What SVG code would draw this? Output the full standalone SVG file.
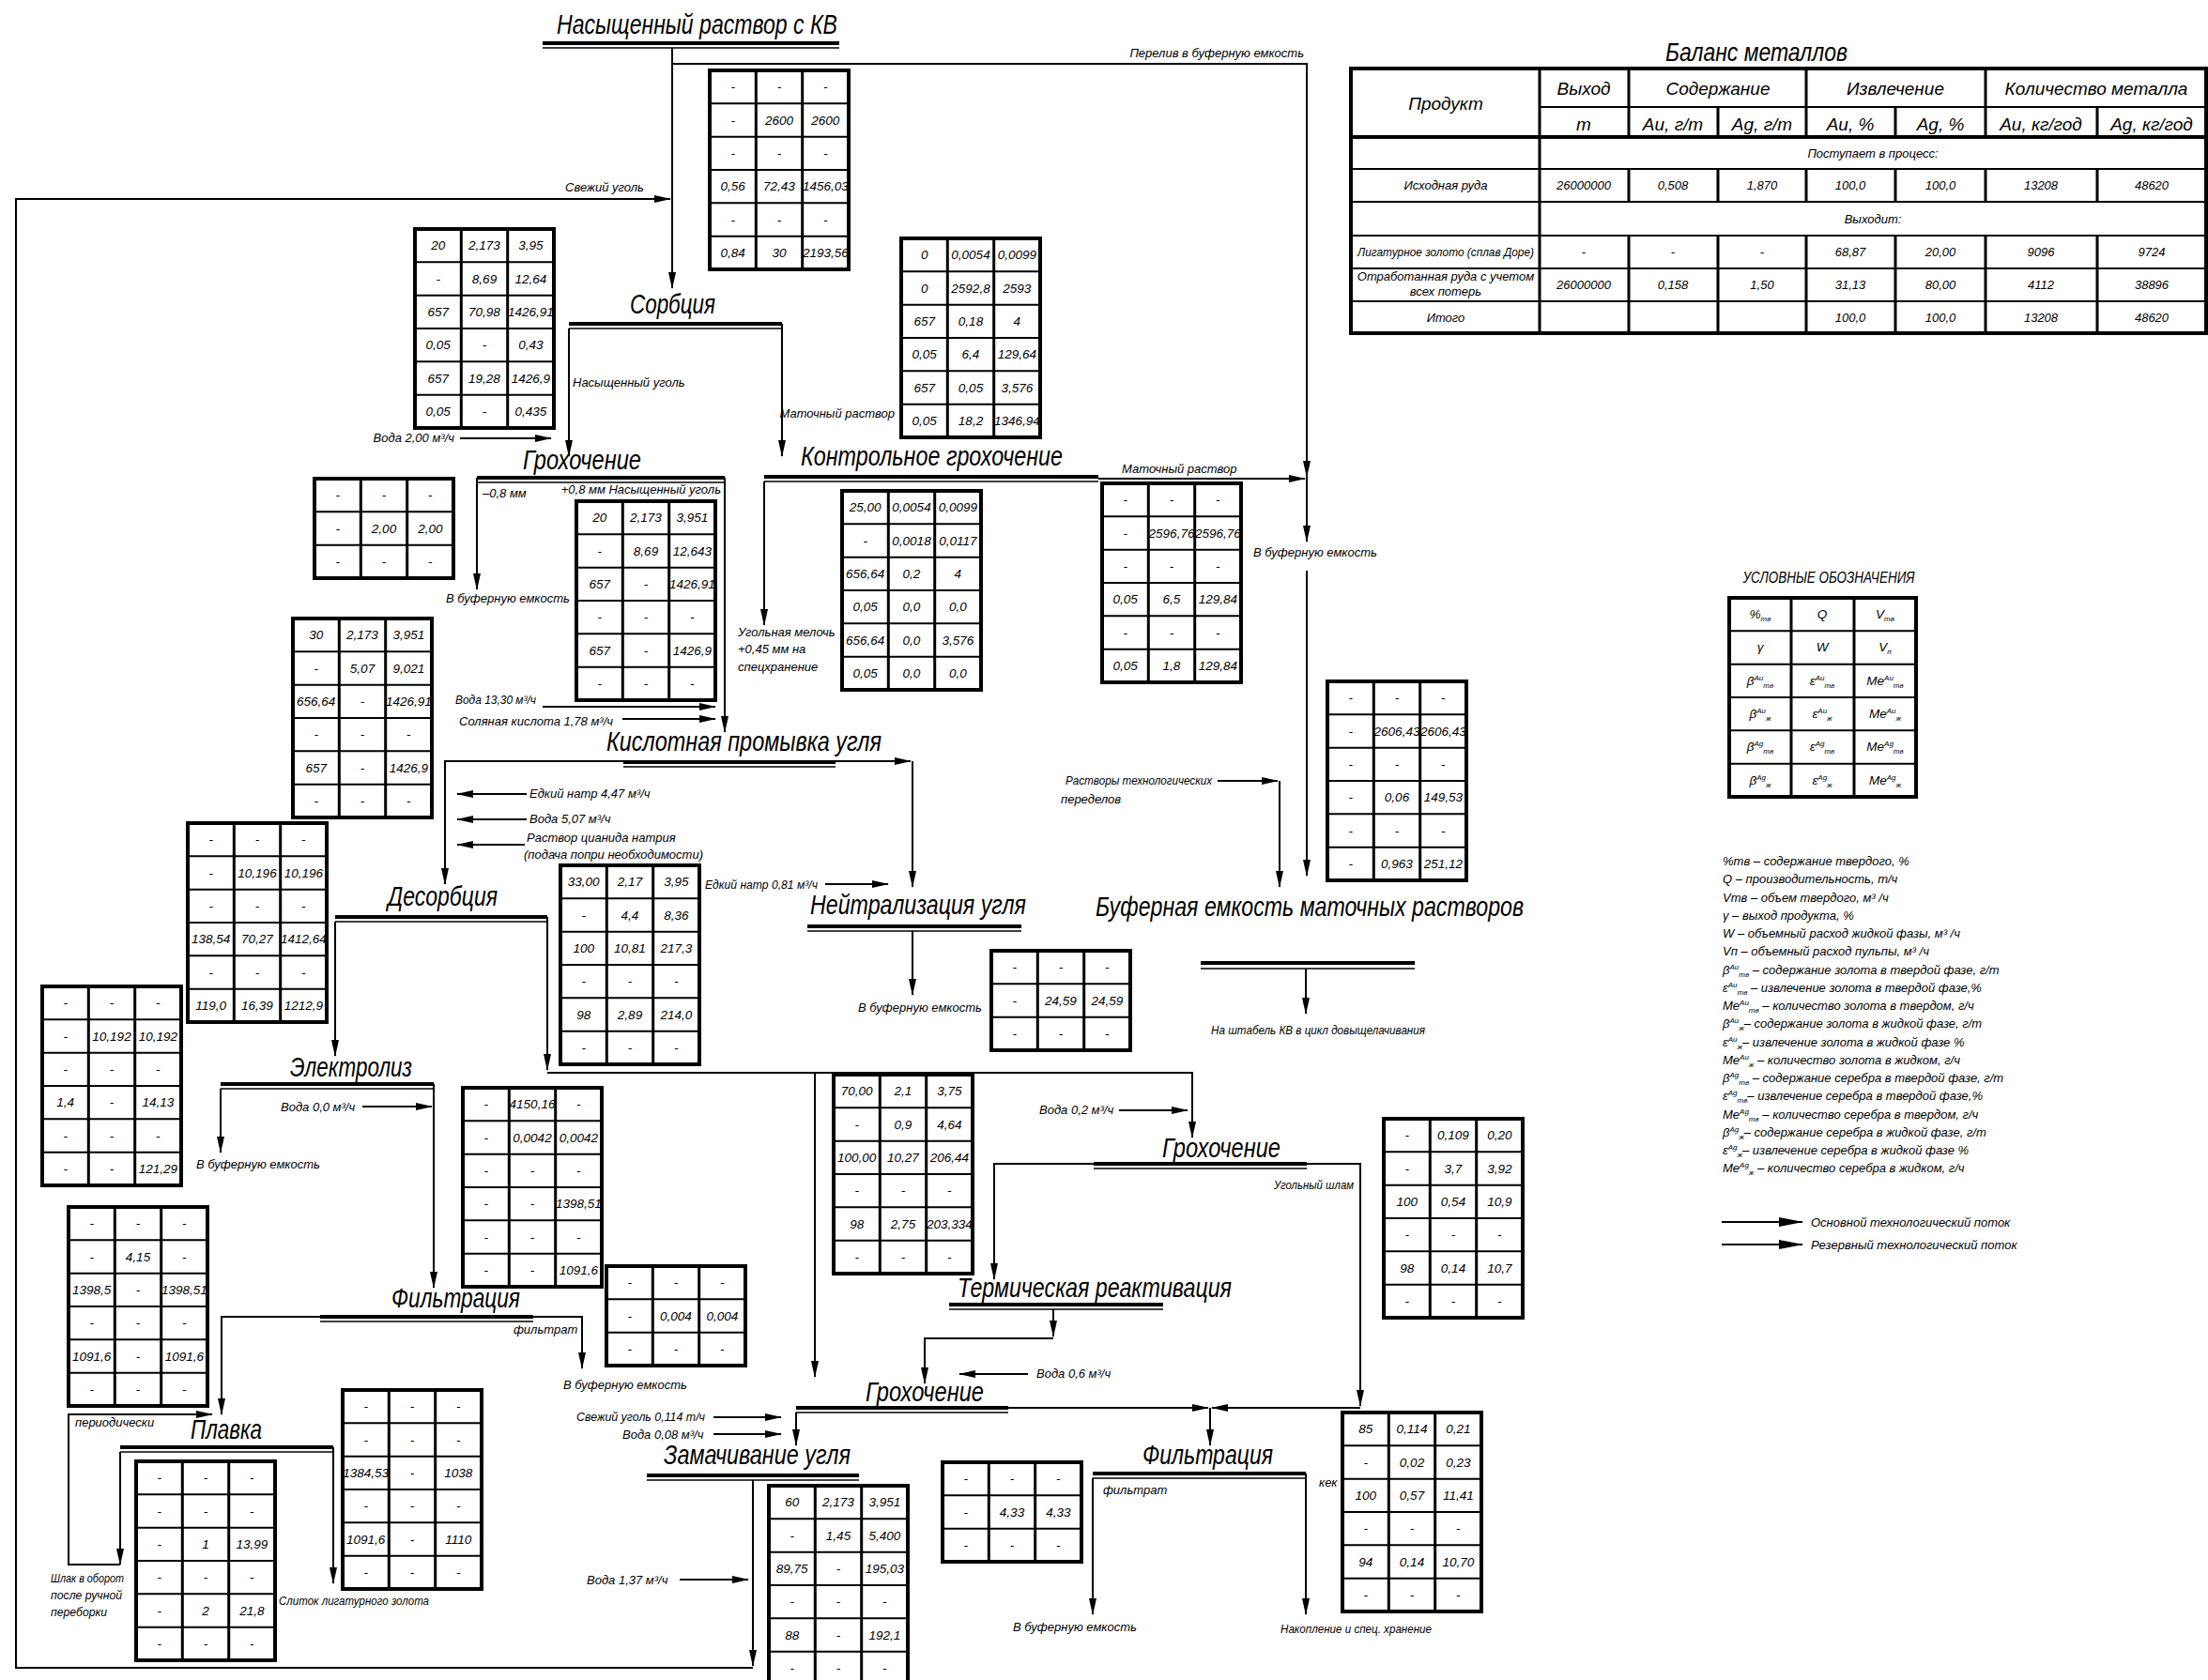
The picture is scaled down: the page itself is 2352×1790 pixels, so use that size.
<svg xmlns="http://www.w3.org/2000/svg" width="2352" height="1790" viewBox="0 0 2352 1790">
<style>
text{font-family:"Liberation Sans",Arial,sans-serif;font-style:italic;fill:#000}
.t{font-size:30px}
.l{font-size:13px}
.v{font-size:13.5px;text-anchor:middle}
.bh{font-size:19px;text-anchor:middle}
.bd{font-size:13px;text-anchor:middle}
.c{fill:none;stroke:#000;stroke-width:2}
.a{marker-end:url(#ar)}
.h1{stroke:#000;stroke-width:4;fill:none}
.h2{stroke:#000;stroke-width:1.5;fill:none}
.tb{fill:none;stroke:#000;stroke-width:4}
.gv{stroke:#000;stroke-width:3;fill:none}
.gh{stroke:#000;stroke-width:2;fill:none}
</style>
<defs>
<marker id="ar" viewBox="0 0 18 8" refX="17" refY="4" markerWidth="18" markerHeight="8" markerUnits="userSpaceOnUse" orient="auto"><path d="M0,0L18,4L0,8z"/></marker>
<marker id="AR" viewBox="0 0 26 10" refX="25" refY="5" markerWidth="26" markerHeight="10" markerUnits="userSpaceOnUse" orient="auto"><path d="M0,0L26,5L0,10z"/></marker>
<g id="g6"><rect class="tb" width="148" height="212"/><path class="gv" d="M49.3,0V212M98.7,0V212"/><path class="gh" d="M0,35.3H148M0,70.7H148M0,106H148M0,141.3H148M0,176.7H148"/></g>
<g id="g3"><rect class="tb" width="148" height="106"/><path class="gv" d="M49.3,0V106M98.7,0V106"/><path class="gh" d="M0,35.3H148M0,70.7H148"/></g>
</defs>
<rect width="2352" height="1790" fill="#fff"/>

<!-- process nodes -->
<g id="n-source"><text class="t" x="593" y="36" textLength="299" lengthAdjust="spacingAndGlyphs">Насыщенный раствор с КВ</text><path class="h1" d="M578,46H894"/><path class="h2" d="M578,51H894"/></g>
<g id="n-sorption"><text class="t" x="671" y="334" textLength="91" lengthAdjust="spacingAndGlyphs">Сорбция</text><path class="h1" d="M606,345H833"/><path class="h2" d="M606,350H833"/></g>
<g id="n-screen1"><text class="t" x="557" y="500" textLength="126" lengthAdjust="spacingAndGlyphs">Грохочение</text><path class="h1" d="M508,509H772"/><path class="h2" d="M508,514H772"/></g>
<g id="n-control"><text class="t" x="853" y="496" textLength="279" lengthAdjust="spacingAndGlyphs">Контрольное грохочение</text><path class="h1" d="M814,508H1170"/><path class="h2" d="M814,513H1170"/></g>
<g id="n-acid"><text class="t" x="646" y="800" textLength="293" lengthAdjust="spacingAndGlyphs">Кислотная промывка угля</text><path class="h1" d="M664,812H890"/><path class="h2" d="M664,817H890"/></g>
<g id="n-desorption"><text class="t" x="413" y="965" textLength="117" lengthAdjust="spacingAndGlyphs">Десорбция</text><path class="h1" d="M357,977H583"/><path class="h2" d="M357,982H583"/></g>
<g id="n-neutral"><text class="t" x="863" y="974" textLength="230" lengthAdjust="spacingAndGlyphs">Нейтрализация угля</text><path class="h1" d="M860,987H1088"/><path class="h2" d="M860,992H1088"/></g>
<g id="n-buffer"><text class="t" x="1167" y="976" textLength="456" lengthAdjust="spacingAndGlyphs">Буферная емкость маточных растворов</text><path class="h1" d="M1279,1026H1507"/><path class="h2" d="M1279,1032H1507"/></g>
<g id="n-electro"><text class="t" x="309" y="1147" textLength="130" lengthAdjust="spacingAndGlyphs">Электролиз</text><path class="h1" d="M235,1155H462"/><path class="h2" d="M235,1160H462"/></g>
<g id="n-filter1"><text class="t" x="417" y="1393" textLength="137" lengthAdjust="spacingAndGlyphs">Фильтрация</text><path class="h1" d="M341,1403H568"/><path class="h2" d="M341,1408H568"/></g>
<g id="n-smelt"><text class="t" x="203" y="1533" textLength="76" lengthAdjust="spacingAndGlyphs">Плавка</text><path class="h1" d="M128,1542H355"/><path class="h2" d="M128,1547H355"/></g>
<g id="n-screen2"><text class="t" x="1238" y="1233" textLength="126" lengthAdjust="spacingAndGlyphs">Грохочение</text><path class="h1" d="M1165,1240H1392"/><path class="h2" d="M1165,1245H1392"/></g>
<g id="n-thermal"><text class="t" x="1020" y="1382" textLength="292" lengthAdjust="spacingAndGlyphs">Термическая реактивация</text><path class="h1" d="M1011,1390H1239"/><path class="h2" d="M1011,1395H1239"/></g>
<g id="n-screen3"><text class="t" x="922" y="1493" textLength="126" lengthAdjust="spacingAndGlyphs">Грохочение</text><path class="h1" d="M848,1500H1074"/><path class="h2" d="M848,1505H1074"/></g>
<g id="n-soak"><text class="t" x="707" y="1560" textLength="199" lengthAdjust="spacingAndGlyphs">Замачивание угля</text><path class="h1" d="M689,1572H915"/><path class="h2" d="M689,1577H915"/></g>
<g id="n-filter2"><text class="t" x="1217" y="1560" textLength="139" lengthAdjust="spacingAndGlyphs">Фильтрация</text><path class="h1" d="M1164,1570H1391"/><path class="h2" d="M1164,1575H1391"/></g>

<!-- connectors -->
<g id="connectors">
<path class="c a" d="M716,51V307"/>
<path class="c a" d="M716,68H1392V508"/>
<path class="c a" d="M1392,508V577"/>
<path class="c a" d="M1392,608V933"/>
<path class="c a" d="M802,1577V1775"/>
<path class="c a" d="M802,1777H17V212H714"/>
<path class="c a" d="M606,350V486"/>
<path class="c a" d="M833,345V486"/>
<path class="c a" d="M490,467H587"/>
<path class="c a" d="M508,509V628"/>
<path class="c a" d="M772,509V780"/>
<path class="c a" d="M578,753H762"/>
<path class="c a" d="M663,766H762"/>
<path class="c a" d="M814,513V666"/>
<path class="c a" d="M1170,510H1390"/>
<path class="c a" d="M664,811H474V942"/>
<path class="c a" d="M890,811H970"/>
<path class="c a" d="M972,811V945"/>
<path class="c a" d="M561,846H487"/>
<path class="c a" d="M561,873H487"/>
<path class="c a" d="M559,900H487"/>
<path class="c a" d="M1297,832H1361"/>
<path class="c a" d="M1363,832V945"/>
<path class="c a" d="M972,992V1060"/>
<path class="c a" d="M879,942H946"/>
<path class="c a" d="M1391,1032V1080"/>
<path class="c a" d="M357,982V1125"/>
<path class="c a" d="M583,977V1140"/>
<path class="c a" d="M583,1143H1270V1212"/>
<path class="c a" d="M868,1143V1467"/>
<path class="c a" d="M235,1160V1228"/>
<path class="c a" d="M462,1155V1372"/>
<path class="c a" d="M386,1179H460"/>
<path class="c a" d="M341,1403H236V1507"/>
<path class="c a" d="M568,1403H620V1458"/>
<path class="c a" d="M128,1547V1667"/>
<path class="c a" d="M128,1667H73V1507H226"/>
<path class="c a" d="M355,1542V1687"/>
<path class="c a" d="M760,1510H832"/>
<path class="c a" d="M760,1528H832"/>
<path class="c a" d="M848,1505V1540"/>
<path class="c a" d="M724,1683H797"/>
<path class="c a" d="M1192,1183H1265"/>
<path class="c a" d="M1165,1240H1059V1363"/>
<path class="c a" d="M1392,1240H1449V1498"/>
<path class="c a" d="M1449,1500H1291"/>
<path class="c a" d="M1122,1395V1424"/>
<path class="c a" d="M1122,1426H985V1474"/>
<path class="c a" d="M1095,1464H1022"/>
<path class="c a" d="M1074,1500H1287"/>
<path class="c a" d="M1289,1500V1540"/>
<path class="c a" d="M1164,1575V1720"/>
<path class="c a" d="M1391,1570V1720"/>
</g>

<!-- flow labels -->
<g id="labels">
<text class="l" x="1389" y="61" text-anchor="end">Перелив в буферную емкость</text>
<text class="l" x="602" y="204">Свежий уголь</text>
<text class="l" x="610" y="412">Насыщенный уголь</text>
<text class="l" x="953" y="445" text-anchor="end">Маточный раствор</text>
<text class="l" x="484" y="471" text-anchor="end">Вода 2,00 м³/ч</text>
<text class="l" x="514" y="530">–0,8 мм</text>
<text class="l" x="768" y="526" text-anchor="end">+0,8 мм Насыщенный уголь</text>
<text class="l" x="475" y="642">В буферную емкость</text>
<text class="l" x="1195" y="504">Маточный раствор</text>
<text class="l" x="1335" y="593">В буферную емкость</text>
<text class="l" x="786" y="678">Угольная мелочь</text>
<text class="l" x="786" y="696">+0,45 мм на</text>
<text class="l" x="786" y="715">спецхранение</text>
<text class="l" x="485" y="750" textLength="86" lengthAdjust="spacingAndGlyphs">Вода 13,30 м³/ч</text>
<text class="l" x="489" y="773">Соляная кислота 1,78 м³/ч</text>
<text class="l" x="564" y="850">Едкий натр 4,47 м³/ч</text>
<text class="l" x="564" y="877">Вода 5,07 м³/ч</text>
<text class="l" x="561" y="897">Раствор цианида натрия</text>
<text class="l" x="558" y="915">(подача попри необходимости)</text>
<text class="l" x="1135" y="836" textLength="156" lengthAdjust="spacingAndGlyphs">Растворы технологических</text>
<text class="l" x="1130" y="856">переделов</text>
<text class="l" x="751" y="947" textLength="120" lengthAdjust="spacingAndGlyphs">Едкий натр 0,81 м³/ч</text>
<text class="l" x="914" y="1078">В буферную емкость</text>
<text class="l" x="1290" y="1102" textLength="228" lengthAdjust="spacingAndGlyphs">На штабель КВ в цикл довыщелачивания</text>
<text class="l" x="299" y="1184">Вода 0,0 м³/ч</text>
<text class="l" x="209" y="1245">В буферную емкость</text>
<text class="l" x="547" y="1421">фильтрат</text>
<text class="l" x="600" y="1480">В буферную емкость</text>
<text class="l" x="80" y="1520">периодически</text>
<text class="l" x="54" y="1686" textLength="78" lengthAdjust="spacingAndGlyphs">Шлак в оборот</text>
<text class="l" x="54" y="1704" textLength="76" lengthAdjust="spacingAndGlyphs">после ручной</text>
<text class="l" x="54" y="1722" textLength="60" lengthAdjust="spacingAndGlyphs">переборки</text>
<text class="l" x="297" y="1710" textLength="160" lengthAdjust="spacingAndGlyphs">Слиток лигатурного золота</text>
<text class="l" x="614" y="1514" textLength="137" lengthAdjust="spacingAndGlyphs">Свежий уголь 0,114 т/ч</text>
<text class="l" x="663" y="1533">Вода 0,08 м³/ч</text>
<text class="l" x="625" y="1688">Вода 1,37 м³/ч</text>
<text class="l" x="1107" y="1187">Вода 0,2 м³/ч</text>
<text class="l" x="1357" y="1267" textLength="85" lengthAdjust="spacingAndGlyphs">Угольный шлам</text>
<text class="l" x="1104" y="1468">Вода 0,6 м³/ч</text>
<text class="l" x="1175" y="1592">фильтрат</text>
<text class="l" x="1405" y="1584">кек</text>
<text class="l" x="1079" y="1738">В буферную емкость</text>
<text class="l" x="1364" y="1740" textLength="161" lengthAdjust="spacingAndGlyphs">Накопление и спец. хранение</text>
</g>

<!-- data tables -->
<g id="t1" transform="translate(756,75)"><use href="#g6"/>
<text class="v" y="22.2"><tspan x="24.7">-</tspan><tspan x="74">-</tspan><tspan x="123.3">-</tspan></text>
<text class="v" y="57.5"><tspan x="24.7">-</tspan><tspan x="74">2600</tspan><tspan x="123.3">2600</tspan></text>
<text class="v" y="92.8"><tspan x="24.7">-</tspan><tspan x="74">-</tspan><tspan x="123.3">-</tspan></text>
<text class="v" y="128.1"><tspan x="24.7">0,56</tspan><tspan x="74">72,43</tspan><tspan x="123.3">1456,03</tspan></text>
<text class="v" y="163.5"><tspan x="24.7">-</tspan><tspan x="74">-</tspan><tspan x="123.3">-</tspan></text>
<text class="v" y="198.8"><tspan x="24.7">0,84</tspan><tspan x="74">30</tspan><tspan x="123.3">2193,56</tspan></text>
</g>
<g id="t2" transform="translate(442,244)"><use href="#g6"/>
<text class="v" y="22.2"><tspan x="24.7">20</tspan><tspan x="74">2,173</tspan><tspan x="123.3">3,95</tspan></text>
<text class="v" y="57.5"><tspan x="24.7">-</tspan><tspan x="74">8,69</tspan><tspan x="123.3">12,64</tspan></text>
<text class="v" y="92.8"><tspan x="24.7">657</tspan><tspan x="74">70,98</tspan><tspan x="123.3">1426,91</tspan></text>
<text class="v" y="128.1"><tspan x="24.7">0,05</tspan><tspan x="74">-</tspan><tspan x="123.3">0,43</tspan></text>
<text class="v" y="163.5"><tspan x="24.7">657</tspan><tspan x="74">19,28</tspan><tspan x="123.3">1426,9</tspan></text>
<text class="v" y="198.8"><tspan x="24.7">0,05</tspan><tspan x="74">-</tspan><tspan x="123.3">0,435</tspan></text>
</g>
<g id="t3" transform="translate(960,254)"><use href="#g6"/>
<text class="v" y="22.2"><tspan x="24.7">0</tspan><tspan x="74">0,0054</tspan><tspan x="123.3">0,0099</tspan></text>
<text class="v" y="57.5"><tspan x="24.7">0</tspan><tspan x="74">2592,8</tspan><tspan x="123.3">2593</tspan></text>
<text class="v" y="92.8"><tspan x="24.7">657</tspan><tspan x="74">0,18</tspan><tspan x="123.3">4</tspan></text>
<text class="v" y="128.1"><tspan x="24.7">0,05</tspan><tspan x="74">6,4</tspan><tspan x="123.3">129,64</tspan></text>
<text class="v" y="163.5"><tspan x="24.7">657</tspan><tspan x="74">0,05</tspan><tspan x="123.3">3,576</tspan></text>
<text class="v" y="198.8"><tspan x="24.7">0,05</tspan><tspan x="74">18,2</tspan><tspan x="123.3">1346,94</tspan></text>
</g>
<g id="t4" transform="translate(335,510)"><use href="#g3"/>
<text class="v" y="22.2"><tspan x="24.7">-</tspan><tspan x="74">-</tspan><tspan x="123.3">-</tspan></text>
<text class="v" y="57.5"><tspan x="24.7">-</tspan><tspan x="74">2,00</tspan><tspan x="123.3">2,00</tspan></text>
<text class="v" y="92.8"><tspan x="24.7">-</tspan><tspan x="74">-</tspan><tspan x="123.3">-</tspan></text>
</g>
<g id="t5" transform="translate(614,534)"><use href="#g6"/>
<text class="v" y="22.2"><tspan x="24.7">20</tspan><tspan x="74">2,173</tspan><tspan x="123.3">3,951</tspan></text>
<text class="v" y="57.5"><tspan x="24.7">-</tspan><tspan x="74">8,69</tspan><tspan x="123.3">12,643</tspan></text>
<text class="v" y="92.8"><tspan x="24.7">657</tspan><tspan x="74">-</tspan><tspan x="123.3">1426,91</tspan></text>
<text class="v" y="128.1"><tspan x="24.7">-</tspan><tspan x="74">-</tspan><tspan x="123.3">-</tspan></text>
<text class="v" y="163.5"><tspan x="24.7">657</tspan><tspan x="74">-</tspan><tspan x="123.3">1426,9</tspan></text>
<text class="v" y="198.8"><tspan x="24.7">-</tspan><tspan x="74">-</tspan><tspan x="123.3">-</tspan></text>
</g>
<g id="t6" transform="translate(312,659)"><use href="#g6"/>
<text class="v" y="22.2"><tspan x="24.7">30</tspan><tspan x="74">2,173</tspan><tspan x="123.3">3,951</tspan></text>
<text class="v" y="57.5"><tspan x="24.7">-</tspan><tspan x="74">5,07</tspan><tspan x="123.3">9,021</tspan></text>
<text class="v" y="92.8"><tspan x="24.7">656,64</tspan><tspan x="74">-</tspan><tspan x="123.3">1426,91</tspan></text>
<text class="v" y="128.1"><tspan x="24.7">-</tspan><tspan x="74">-</tspan><tspan x="123.3">-</tspan></text>
<text class="v" y="163.5"><tspan x="24.7">657</tspan><tspan x="74">-</tspan><tspan x="123.3">1426,9</tspan></text>
<text class="v" y="198.8"><tspan x="24.7">-</tspan><tspan x="74">-</tspan><tspan x="123.3">-</tspan></text>
</g>
<g id="t7" transform="translate(897,523)"><use href="#g6"/>
<text class="v" y="22.2"><tspan x="24.7">25,00</tspan><tspan x="74">0,0054</tspan><tspan x="123.3">0,0099</tspan></text>
<text class="v" y="57.5"><tspan x="24.7">-</tspan><tspan x="74">0,0018</tspan><tspan x="123.3">0,0117</tspan></text>
<text class="v" y="92.8"><tspan x="24.7">656,64</tspan><tspan x="74">0,2</tspan><tspan x="123.3">4</tspan></text>
<text class="v" y="128.1"><tspan x="24.7">0,05</tspan><tspan x="74">0,0</tspan><tspan x="123.3">0,0</tspan></text>
<text class="v" y="163.5"><tspan x="24.7">656,64</tspan><tspan x="74">0,0</tspan><tspan x="123.3">3,576</tspan></text>
<text class="v" y="198.8"><tspan x="24.7">0,05</tspan><tspan x="74">0,0</tspan><tspan x="123.3">0,0</tspan></text>
</g>
<g id="t8" transform="translate(1174,515)"><use href="#g6"/>
<text class="v" y="22.2"><tspan x="24.7">-</tspan><tspan x="74">-</tspan><tspan x="123.3">-</tspan></text>
<text class="v" y="57.5"><tspan x="24.7">-</tspan><tspan x="74">2596,76</tspan><tspan x="123.3">2596,76</tspan></text>
<text class="v" y="92.8"><tspan x="24.7">-</tspan><tspan x="74">-</tspan><tspan x="123.3">-</tspan></text>
<text class="v" y="128.1"><tspan x="24.7">0,05</tspan><tspan x="74">6,5</tspan><tspan x="123.3">129,84</tspan></text>
<text class="v" y="163.5"><tspan x="24.7">-</tspan><tspan x="74">-</tspan><tspan x="123.3">-</tspan></text>
<text class="v" y="198.8"><tspan x="24.7">0,05</tspan><tspan x="74">1,8</tspan><tspan x="123.3">129,84</tspan></text>
</g>
<g id="t9" transform="translate(1414,726)"><use href="#g6"/>
<text class="v" y="22.2"><tspan x="24.7">-</tspan><tspan x="74">-</tspan><tspan x="123.3">-</tspan></text>
<text class="v" y="57.5"><tspan x="24.7">-</tspan><tspan x="74">2606,43</tspan><tspan x="123.3">2606,43</tspan></text>
<text class="v" y="92.8"><tspan x="24.7">-</tspan><tspan x="74">-</tspan><tspan x="123.3">-</tspan></text>
<text class="v" y="128.1"><tspan x="24.7">-</tspan><tspan x="74">0,06</tspan><tspan x="123.3">149,53</tspan></text>
<text class="v" y="163.5"><tspan x="24.7">-</tspan><tspan x="74">-</tspan><tspan x="123.3">-</tspan></text>
<text class="v" y="198.8"><tspan x="24.7">-</tspan><tspan x="74">0,963</tspan><tspan x="123.3">251,12</tspan></text>
</g>
<g id="t10" transform="translate(1056,1013)"><use href="#g3"/>
<text class="v" y="22.2"><tspan x="24.7">-</tspan><tspan x="74">-</tspan><tspan x="123.3">-</tspan></text>
<text class="v" y="57.5"><tspan x="24.7">-</tspan><tspan x="74">24,59</tspan><tspan x="123.3">24,59</tspan></text>
<text class="v" y="92.8"><tspan x="24.7">-</tspan><tspan x="74">-</tspan><tspan x="123.3">-</tspan></text>
</g>
<g id="t11" transform="translate(597,922)"><use href="#g6"/>
<text class="v" y="22.2"><tspan x="24.7">33,00</tspan><tspan x="74">2,17</tspan><tspan x="123.3">3,95</tspan></text>
<text class="v" y="57.5"><tspan x="24.7">-</tspan><tspan x="74">4,4</tspan><tspan x="123.3">8,36</tspan></text>
<text class="v" y="92.8"><tspan x="24.7">100</tspan><tspan x="74">10,81</tspan><tspan x="123.3">217,3</tspan></text>
<text class="v" y="128.1"><tspan x="24.7">-</tspan><tspan x="74">-</tspan><tspan x="123.3">-</tspan></text>
<text class="v" y="163.5"><tspan x="24.7">98</tspan><tspan x="74">2,89</tspan><tspan x="123.3">214,0</tspan></text>
<text class="v" y="198.8"><tspan x="24.7">-</tspan><tspan x="74">-</tspan><tspan x="123.3">-</tspan></text>
</g>
<g id="t12" transform="translate(200,877)"><use href="#g6"/>
<text class="v" y="22.2"><tspan x="24.7">-</tspan><tspan x="74">-</tspan><tspan x="123.3">-</tspan></text>
<text class="v" y="57.5"><tspan x="24.7">-</tspan><tspan x="74">10,196</tspan><tspan x="123.3">10,196</tspan></text>
<text class="v" y="92.8"><tspan x="24.7">-</tspan><tspan x="74">-</tspan><tspan x="123.3">-</tspan></text>
<text class="v" y="128.1"><tspan x="24.7">138,54</tspan><tspan x="74">70,27</tspan><tspan x="123.3">1412,64</tspan></text>
<text class="v" y="163.5"><tspan x="24.7">-</tspan><tspan x="74">-</tspan><tspan x="123.3">-</tspan></text>
<text class="v" y="198.8"><tspan x="24.7">119,0</tspan><tspan x="74">16,39</tspan><tspan x="123.3">1212,9</tspan></text>
</g>
<g id="t13" transform="translate(45,1051)"><use href="#g6"/>
<text class="v" y="22.2"><tspan x="24.7">-</tspan><tspan x="74">-</tspan><tspan x="123.3">-</tspan></text>
<text class="v" y="57.5"><tspan x="24.7">-</tspan><tspan x="74">10,192</tspan><tspan x="123.3">10,192</tspan></text>
<text class="v" y="92.8"><tspan x="24.7">-</tspan><tspan x="74">-</tspan><tspan x="123.3">-</tspan></text>
<text class="v" y="128.1"><tspan x="24.7">1,4</tspan><tspan x="74">-</tspan><tspan x="123.3">14,13</tspan></text>
<text class="v" y="163.5"><tspan x="24.7">-</tspan><tspan x="74">-</tspan><tspan x="123.3">-</tspan></text>
<text class="v" y="198.8"><tspan x="24.7">-</tspan><tspan x="74">-</tspan><tspan x="123.3">121,29</tspan></text>
</g>
<g id="t14" transform="translate(493,1159)"><use href="#g6"/>
<text class="v" y="22.2"><tspan x="24.7">-</tspan><tspan x="74">4150,16</tspan><tspan x="123.3">-</tspan></text>
<text class="v" y="57.5"><tspan x="24.7">-</tspan><tspan x="74">0,0042</tspan><tspan x="123.3">0,0042</tspan></text>
<text class="v" y="92.8"><tspan x="24.7">-</tspan><tspan x="74">-</tspan><tspan x="123.3">-</tspan></text>
<text class="v" y="128.1"><tspan x="24.7">-</tspan><tspan x="74">-</tspan><tspan x="123.3">1398,51</tspan></text>
<text class="v" y="163.5"><tspan x="24.7">-</tspan><tspan x="74">-</tspan><tspan x="123.3">-</tspan></text>
<text class="v" y="198.8"><tspan x="24.7">-</tspan><tspan x="74">-</tspan><tspan x="123.3">1091,6</tspan></text>
</g>
<g id="t15" transform="translate(646,1349)"><use href="#g3"/>
<text class="v" y="22.2"><tspan x="24.7">-</tspan><tspan x="74">-</tspan><tspan x="123.3">-</tspan></text>
<text class="v" y="57.5"><tspan x="24.7">-</tspan><tspan x="74">0,004</tspan><tspan x="123.3">0,004</tspan></text>
<text class="v" y="92.8"><tspan x="24.7">-</tspan><tspan x="74">-</tspan><tspan x="123.3">-</tspan></text>
</g>
<g id="t16" transform="translate(73,1286)"><use href="#g6"/>
<text class="v" y="22.2"><tspan x="24.7">-</tspan><tspan x="74">-</tspan><tspan x="123.3">-</tspan></text>
<text class="v" y="57.5"><tspan x="24.7">-</tspan><tspan x="74">4,15</tspan><tspan x="123.3">-</tspan></text>
<text class="v" y="92.8"><tspan x="24.7">1398,5</tspan><tspan x="74">-</tspan><tspan x="123.3">1398,51</tspan></text>
<text class="v" y="128.1"><tspan x="24.7">-</tspan><tspan x="74">-</tspan><tspan x="123.3">-</tspan></text>
<text class="v" y="163.5"><tspan x="24.7">1091,6</tspan><tspan x="74">-</tspan><tspan x="123.3">1091,6</tspan></text>
<text class="v" y="198.8"><tspan x="24.7">-</tspan><tspan x="74">-</tspan><tspan x="123.3">-</tspan></text>
</g>
<g id="t17" transform="translate(145,1557)"><use href="#g6"/>
<text class="v" y="22.2"><tspan x="24.7">-</tspan><tspan x="74">-</tspan><tspan x="123.3">-</tspan></text>
<text class="v" y="57.5"><tspan x="24.7">-</tspan><tspan x="74">-</tspan><tspan x="123.3">-</tspan></text>
<text class="v" y="92.8"><tspan x="24.7">-</tspan><tspan x="74">1</tspan><tspan x="123.3">13,99</tspan></text>
<text class="v" y="128.1"><tspan x="24.7">-</tspan><tspan x="74">-</tspan><tspan x="123.3">-</tspan></text>
<text class="v" y="163.5"><tspan x="24.7">-</tspan><tspan x="74">2</tspan><tspan x="123.3">21,8</tspan></text>
<text class="v" y="198.8"><tspan x="24.7">-</tspan><tspan x="74">-</tspan><tspan x="123.3">-</tspan></text>
</g>
<g id="t18" transform="translate(365,1481)"><use href="#g6"/>
<text class="v" y="22.2"><tspan x="24.7">-</tspan><tspan x="74">-</tspan><tspan x="123.3">-</tspan></text>
<text class="v" y="57.5"><tspan x="24.7">-</tspan><tspan x="74">-</tspan><tspan x="123.3">-</tspan></text>
<text class="v" y="92.8"><tspan x="24.7">1384,53</tspan><tspan x="74">-</tspan><tspan x="123.3">1038</tspan></text>
<text class="v" y="128.1"><tspan x="24.7">-</tspan><tspan x="74">-</tspan><tspan x="123.3">-</tspan></text>
<text class="v" y="163.5"><tspan x="24.7">1091,6</tspan><tspan x="74">-</tspan><tspan x="123.3">1110</tspan></text>
<text class="v" y="198.8"><tspan x="24.7">-</tspan><tspan x="74">-</tspan><tspan x="123.3">-</tspan></text>
</g>
<g id="t19" transform="translate(819,1583)"><use href="#g6"/>
<text class="v" y="22.2"><tspan x="24.7">60</tspan><tspan x="74">2,173</tspan><tspan x="123.3">3,951</tspan></text>
<text class="v" y="57.5"><tspan x="24.7">-</tspan><tspan x="74">1,45</tspan><tspan x="123.3">5,400</tspan></text>
<text class="v" y="92.8"><tspan x="24.7">89,75</tspan><tspan x="74">-</tspan><tspan x="123.3">195,03</tspan></text>
<text class="v" y="128.1"><tspan x="24.7">-</tspan><tspan x="74">-</tspan><tspan x="123.3">-</tspan></text>
<text class="v" y="163.5"><tspan x="24.7">88</tspan><tspan x="74">-</tspan><tspan x="123.3">192,1</tspan></text>
<text class="v" y="198.8"><tspan x="24.7">-</tspan><tspan x="74">-</tspan><tspan x="123.3">-</tspan></text>
</g>
<g id="t20" transform="translate(888,1145)"><use href="#g6"/>
<text class="v" y="22.2"><tspan x="24.7">70,00</tspan><tspan x="74">2,1</tspan><tspan x="123.3">3,75</tspan></text>
<text class="v" y="57.5"><tspan x="24.7">-</tspan><tspan x="74">0,9</tspan><tspan x="123.3">4,64</tspan></text>
<text class="v" y="92.8"><tspan x="24.7">100,00</tspan><tspan x="74">10,27</tspan><tspan x="123.3">206,44</tspan></text>
<text class="v" y="128.1"><tspan x="24.7">-</tspan><tspan x="74">-</tspan><tspan x="123.3">-</tspan></text>
<text class="v" y="163.5"><tspan x="24.7">98</tspan><tspan x="74">2,75</tspan><tspan x="123.3">203,334</tspan></text>
<text class="v" y="198.8"><tspan x="24.7">-</tspan><tspan x="74">-</tspan><tspan x="123.3">-</tspan></text>
</g>
<g id="t21" transform="translate(1474,1192)"><use href="#g6"/>
<text class="v" y="22.2"><tspan x="24.7">-</tspan><tspan x="74">0,109</tspan><tspan x="123.3">0,20</tspan></text>
<text class="v" y="57.5"><tspan x="24.7">-</tspan><tspan x="74">3,7</tspan><tspan x="123.3">3,92</tspan></text>
<text class="v" y="92.8"><tspan x="24.7">100</tspan><tspan x="74">0,54</tspan><tspan x="123.3">10,9</tspan></text>
<text class="v" y="128.1"><tspan x="24.7">-</tspan><tspan x="74">-</tspan><tspan x="123.3">-</tspan></text>
<text class="v" y="163.5"><tspan x="24.7">98</tspan><tspan x="74">0,14</tspan><tspan x="123.3">10,7</tspan></text>
<text class="v" y="198.8"><tspan x="24.7">-</tspan><tspan x="74">-</tspan><tspan x="123.3">-</tspan></text>
</g>
<g id="t22" transform="translate(1004,1558)"><use href="#g3"/>
<text class="v" y="22.2"><tspan x="24.7">-</tspan><tspan x="74">-</tspan><tspan x="123.3">-</tspan></text>
<text class="v" y="57.5"><tspan x="24.7">-</tspan><tspan x="74">4,33</tspan><tspan x="123.3">4,33</tspan></text>
<text class="v" y="92.8"><tspan x="24.7">-</tspan><tspan x="74">-</tspan><tspan x="123.3">-</tspan></text>
</g>
<g id="t23" transform="translate(1430,1505)"><use href="#g6"/>
<text class="v" y="22.2"><tspan x="24.7">85</tspan><tspan x="74">0,114</tspan><tspan x="123.3">0,21</tspan></text>
<text class="v" y="57.5"><tspan x="24.7">-</tspan><tspan x="74">0,02</tspan><tspan x="123.3">0,23</tspan></text>
<text class="v" y="92.8"><tspan x="24.7">100</tspan><tspan x="74">0,57</tspan><tspan x="123.3">11,41</tspan></text>
<text class="v" y="128.1"><tspan x="24.7">-</tspan><tspan x="74">-</tspan><tspan x="123.3">-</tspan></text>
<text class="v" y="163.5"><tspan x="24.7">94</tspan><tspan x="74">0,14</tspan><tspan x="123.3">10,70</tspan></text>
<text class="v" y="198.8"><tspan x="24.7">-</tspan><tspan x="74">-</tspan><tspan x="123.3">-</tspan></text>
</g>

<!-- metal balance table -->
<g id="balance">
<text x="1871" y="65" font-size="28" text-anchor="middle" textLength="194" lengthAdjust="spacingAndGlyphs">Баланс металлов</text>
<rect class="tb" x="1439" y="73" width="911" height="282"/>
<path class="gv" d="M1640,73V355M1735,73V146M1735,180V215M1735,251V355M1924,73V146M1924,180V215M1924,251V355M2115,73V146M2115,180V215M2115,251V355M1830,114V146M1830,180V215M1830,251V355M2019,114V146M2019,180V215M2019,251V355M2234,114V146M2234,180V215M2234,251V355"/>
<path class="gh" d="M1640,114H2350M1439,180H2350M1439,215H2350M1439,251H2350M1439,286H2350M1439,321H2350"/>
<path class="tb" d="M1439,146H2350"/>
<text class="bh" x="1540" y="117">Продукт</text>
<text class="bh" x="1687" y="101">Выход</text>
<text class="bh" x="1687" y="139">т</text>
<text class="bh" x="1830" y="101">Содержание</text>
<text class="bh" x="1782" y="139">Au, г/т</text>
<text class="bh" x="1877" y="139">Ag, г/т</text>
<text class="bh" x="2019" y="101">Извлечение</text>
<text class="bh" x="1971" y="139">Au, %</text>
<text class="bh" x="2067" y="139">Ag, %</text>
<text class="bh" x="2233" y="101">Количество металла</text>
<text class="bh" x="2174" y="139">Au, кг/год</text>
<text class="bh" x="2292" y="139">Ag, кг/год</text>
<text class="bd" x="1995" y="168">Поступает в процесс:</text>
<text class="bd" y="202"><tspan x="1540">Исходная руда</tspan><tspan x="1687">26000000</tspan><tspan x="1782">0,508</tspan><tspan x="1877">1,870</tspan><tspan x="1971">100,0</tspan><tspan x="2067">100,0</tspan><tspan x="2174">13208</tspan><tspan x="2292">48620</tspan></text>
<text class="bd" x="1995" y="238">Выходит:</text>
<text class="bd" x="1540" y="273" textLength="188" lengthAdjust="spacingAndGlyphs">Лигатурное золото (сплав Доре)</text>
<text class="bd" y="273"><tspan x="1687">-</tspan><tspan x="1782">-</tspan><tspan x="1877">-</tspan><tspan x="1971">68,87</tspan><tspan x="2067">20,00</tspan><tspan x="2174">9096</tspan><tspan x="2292">9724</tspan></text>
<text class="bd" x="1540" y="299">Отработанная руда с учетом</text>
<text class="bd" x="1540" y="315">всех потерь</text>
<text class="bd" y="308"><tspan x="1687">26000000</tspan><tspan x="1782">0,158</tspan><tspan x="1877">1,50</tspan><tspan x="1971">31,13</tspan><tspan x="2067">80,00</tspan><tspan x="2174">4112</tspan><tspan x="2292">38896</tspan></text>
<text class="bd" y="343"><tspan x="1540">Итого</tspan><tspan x="1971">100,0</tspan><tspan x="2067">100,0</tspan><tspan x="2174">13208</tspan><tspan x="2292">48620</tspan></text>
</g>

<!-- legend -->
<g id="legend">
<text x="1948" y="621" font-size="17" text-anchor="middle" textLength="183" lengthAdjust="spacingAndGlyphs">УСЛОВНЫЕ ОБОЗНАЧЕНИЯ</text>
<rect class="tb" x="1842" y="637" width="199" height="212"/>
<path class="gv" d="M1908,637V849M1975,637V849"/>
<path class="gh" d="M1842,672.3H2041M1842,707.7H2041M1842,743H2041M1842,778.3H2041M1842,813.7H2041"/>
<text class="v" x="1875" y="659">%<tspan font-size="8" dy="3">тв</tspan></text>
<text class="v" x="1941" y="659">Q</text>
<text class="v" x="2008" y="659">V<tspan font-size="8" dy="3">тв</tspan></text>
<text class="v" x="1875" y="694">γ</text>
<text class="v" x="1941" y="694">W</text>
<text class="v" x="2008" y="694">V<tspan font-size="8" dy="3">п</tspan></text>
<text class="v" x="1875" y="730">β<tspan font-size="8" dy="-5">Au</tspan><tspan font-size="8" dy="8">тв</tspan></text>
<text class="v" x="1941" y="730">ε<tspan font-size="8" dy="-5">Au</tspan><tspan font-size="8" dy="8">тв</tspan></text>
<text class="v" x="2008" y="730">Me<tspan font-size="8" dy="-5">Au</tspan><tspan font-size="8" dy="8">тв</tspan></text>
<text class="v" x="1875" y="765">β<tspan font-size="8" dy="-5">Au</tspan><tspan font-size="8" dy="8">ж</tspan></text>
<text class="v" x="1941" y="765">ε<tspan font-size="8" dy="-5">Au</tspan><tspan font-size="8" dy="8">ж</tspan></text>
<text class="v" x="2008" y="765">Me<tspan font-size="8" dy="-5">Au</tspan><tspan font-size="8" dy="8">ж</tspan></text>
<text class="v" x="1875" y="800">β<tspan font-size="8" dy="-5">Ag</tspan><tspan font-size="8" dy="8">тв</tspan></text>
<text class="v" x="1941" y="800">ε<tspan font-size="8" dy="-5">Ag</tspan><tspan font-size="8" dy="8">тв</tspan></text>
<text class="v" x="2008" y="800">Me<tspan font-size="8" dy="-5">Ag</tspan><tspan font-size="8" dy="8">тв</tspan></text>
<text class="v" x="1875" y="836">β<tspan font-size="8" dy="-5">Ag</tspan><tspan font-size="8" dy="8">ж</tspan></text>
<text class="v" x="1941" y="836">ε<tspan font-size="8" dy="-5">Ag</tspan><tspan font-size="8" dy="8">ж</tspan></text>
<text class="v" x="2008" y="836">Me<tspan font-size="8" dy="-5">Ag</tspan><tspan font-size="8" dy="8">ж</tspan></text>

<text class="l" x="1835" y="922">%тв – содержание твердого, %</text>
<text class="l" x="1835" y="941">Q – производительность, т/ч</text>
<text class="l" x="1835" y="960.5">Vтв – объем твердого, м³ /ч</text>
<text class="l" x="1835" y="980">γ – выход продукта, %</text>
<text class="l" x="1835" y="999">W – объемный расход жидкой фазы, м³ /ч</text>
<text class="l" x="1835" y="1018">Vп – объемный расход пульпы, м³ /ч</text>
<text class="l" x="1835" y="1037.5">β<tspan font-size="8" dy="-5">Au</tspan><tspan font-size="8" dy="8">тв</tspan><tspan dy="-3"> – содержание золота в твердой фазе, г/т</tspan></text>
<text class="l" x="1835" y="1057">ε<tspan font-size="8" dy="-5">Au</tspan><tspan font-size="8" dy="8">тв</tspan><tspan dy="-3"> – извлечение золота в твердой фазе,%</tspan></text>
<text class="l" x="1835" y="1076">Me<tspan font-size="8" dy="-5">Au</tspan><tspan font-size="8" dy="8">тв</tspan><tspan dy="-3"> – количество золота в твердом, г/ч</tspan></text>
<text class="l" x="1835" y="1095">β<tspan font-size="8" dy="-5">Au</tspan><tspan font-size="8" dy="8">ж</tspan><tspan dy="-3">– содержание золота в жидкой фазе, г/т</tspan></text>
<text class="l" x="1835" y="1114.5">ε<tspan font-size="8" dy="-5">Au</tspan><tspan font-size="8" dy="8">ж</tspan><tspan dy="-3">– извлечение золота в жидкой фазе %</tspan></text>
<text class="l" x="1835" y="1134">Me<tspan font-size="8" dy="-5">Au</tspan><tspan font-size="8" dy="8">ж</tspan><tspan dy="-3"> – количество золота в жидком, г/ч</tspan></text>
<text class="l" x="1835" y="1153">β<tspan font-size="8" dy="-5">Ag</tspan><tspan font-size="8" dy="8">тв</tspan><tspan dy="-3"> – содержание серебра в твердой фазе, г/т</tspan></text>
<text class="l" x="1835" y="1172">ε<tspan font-size="8" dy="-5">Ag</tspan><tspan font-size="8" dy="8">тв</tspan><tspan dy="-3">– извлечение серебра в твердой фазе,%</tspan></text>
<text class="l" x="1835" y="1191.5">Me<tspan font-size="8" dy="-5">Ag</tspan><tspan font-size="8" dy="8">тв</tspan><tspan dy="-3"> – количество серебра в твердом, г/ч</tspan></text>
<text class="l" x="1835" y="1211">β<tspan font-size="8" dy="-5">Ag</tspan><tspan font-size="8" dy="8">ж</tspan><tspan dy="-3">– содержание серебра в жидкой фазе, г/т</tspan></text>
<text class="l" x="1835" y="1230">ε<tspan font-size="8" dy="-5">Ag</tspan><tspan font-size="8" dy="8">ж</tspan><tspan dy="-3">– извлечение серебра в жидкой фазе %</tspan></text>
<text class="l" x="1835" y="1249">Me<tspan font-size="8" dy="-5">Ag</tspan><tspan font-size="8" dy="8">ж</tspan><tspan dy="-3"> – количество серебра в жидком, г/ч</tspan></text>

<path class="c" d="M1834,1302H1920" marker-end="url(#AR)"/>
<path class="c" d="M1834,1326H1920" marker-end="url(#AR)"/>
<text class="l" x="1929" y="1307">Основной технологический поток</text>
<text class="l" x="1929" y="1331">Резервный технологический поток</text>
</g>
</svg>
